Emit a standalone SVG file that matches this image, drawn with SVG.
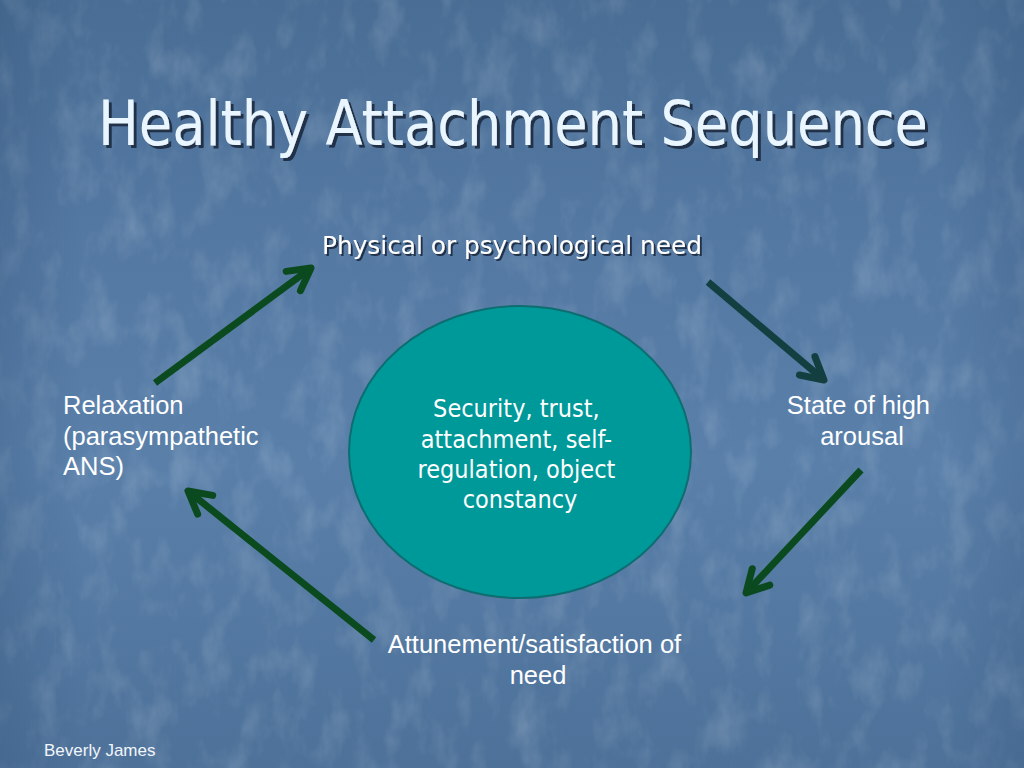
<svg xmlns="http://www.w3.org/2000/svg" width="1024" height="768" viewBox="0 0 1024 768">
<defs>
  <linearGradient id="bg" x1="0" y1="0" x2="0" y2="1">
    <stop offset="0" stop-color="#496d94"/>
    <stop offset="0.3" stop-color="#5378a2"/>
    <stop offset="0.6" stop-color="#5a80aa"/>
    <stop offset="1" stop-color="#4d7199"/>
  </linearGradient>
  <linearGradient id="side" x1="0" y1="0" x2="1" y2="0">
    <stop offset="0" stop-color="#2f4f75" stop-opacity="0.25"/>
    <stop offset="0.08" stop-color="#2f4f75" stop-opacity="0"/>
    <stop offset="0.92" stop-color="#2f4f75" stop-opacity="0"/>
    <stop offset="1" stop-color="#2f4f75" stop-opacity="0.2"/>
  </linearGradient>
  <filter id="tex" x="0" y="0" width="100%" height="100%">
    <feTurbulence type="fractalNoise" baseFrequency="0.035 0.02" numOctaves="4" seed="7"/>
    <feColorMatrix type="matrix" values="0 0 0 0 1  0 0 0 0 1  0 0 0 0 1  0 0 0 1.3 -0.6"/>
  </filter>
  <filter id="shadow" x="-5%" y="-20%" width="110%" height="150%">
    <feDropShadow dx="3" dy="3" stdDeviation="0.6" flood-color="#14253a" flood-opacity="0.85"/>
  </filter>
  <filter id="shadowSm" x="-5%" y="-20%" width="110%" height="150%">
    <feDropShadow dx="2" dy="2" stdDeviation="0.5" flood-color="#14253a" flood-opacity="0.85"/>
  </filter>
  <marker id="headGreen" viewBox="-30 -20 40 40" refX="0" refY="0" markerWidth="40" markerHeight="40" markerUnits="userSpaceOnUse" orient="auto">
    <path d="M-22,-12 L0,0 L-22,12" fill="none" stroke="#0b4a1f" stroke-width="7" stroke-linecap="round" stroke-linejoin="round"/>
  </marker>
  <marker id="headTeal" viewBox="-30 -20 40 40" refX="0" refY="0" markerWidth="40" markerHeight="40" markerUnits="userSpaceOnUse" orient="auto">
    <path d="M-22,-12 L0,0 L-22,12" fill="none" stroke="#133f40" stroke-width="7" stroke-linecap="round" stroke-linejoin="round"/>
  </marker>
</defs>
<style>
  .tahoma { font-family: "DejaVu Sans", "Noto Sans", sans-serif; font-stretch: condensed; }
  .arial { font-family: "Liberation Sans", Arial, sans-serif; }
  .white { fill: #ffffff; }
  .conn { fill: none; stroke-width: 7; stroke-linecap: butt; }
  .green { stroke: #0b4a1f; marker-end: url(#headGreen); }
  .teal { stroke: #133f40; marker-end: url(#headTeal); }
</style>

<rect x="0" y="0" width="1024" height="768" fill="url(#bg)"/>
<rect x="0" y="0" width="1024" height="768" filter="url(#tex)" opacity="0.25"/>
<rect x="0" y="0" width="1024" height="768" fill="url(#side)"/>

<g id="title">
  <text class="tahoma" x="98" y="145" font-size="62" fill="#eaf6ff" textLength="830" lengthAdjust="spacingAndGlyphs" filter="url(#shadow)">Healthy Attachment Sequence</text>
</g>

<g id="connectors">
  <line class="conn green" x1="155" y1="383" x2="311" y2="268"/>
  <line class="conn teal" x1="708" y1="282" x2="824" y2="380"/>
  <line class="conn green" x1="861" y1="470" x2="746" y2="593"/>
  <line class="conn green" x1="374" y1="640" x2="188" y2="491"/>
</g>

<g id="node-need">
  <text class="tahoma white" x="322" y="254" font-size="25" textLength="380" lengthAdjust="spacingAndGlyphs" filter="url(#shadowSm)">Physical or psychological need</text>
</g>

<g id="node-center">
  <ellipse cx="520" cy="452" rx="171" ry="146" fill="#009999" stroke="#0d6d70" stroke-width="2"/>
  <text class="tahoma white" font-size="25" text-anchor="middle">
    <tspan x="520" y="417">Security, trust,</tspan>
    <tspan x="520" y="448">attachment, self-</tspan>
    <tspan x="520" y="478">regulation, object</tspan>
    <tspan x="520" y="508">constancy</tspan>
  </text>
</g>

<g id="node-arousal">
  <text class="arial white" font-size="25.5" text-anchor="middle">
    <tspan x="862" y="414">State of high</tspan>
    <tspan x="862" y="445">arousal</tspan>
  </text>
</g>

<g id="node-attunement">
  <text class="arial white" font-size="25.5" text-anchor="middle">
    <tspan x="538" y="653">Attunement/satisfaction of</tspan>
    <tspan x="538" y="684">need</tspan>
  </text>
</g>

<g id="node-relaxation">
  <text class="arial white" font-size="25.5">
    <tspan x="63" y="414">Relaxation</tspan>
    <tspan x="63" y="445">(parasympathetic</tspan>
    <tspan x="63" y="475">ANS)</tspan>
  </text>
</g>

<g id="footer">
  <text class="arial" x="44" y="756" font-size="17" fill="#f2f6fb">Beverly James</text>
</g>
</svg>
